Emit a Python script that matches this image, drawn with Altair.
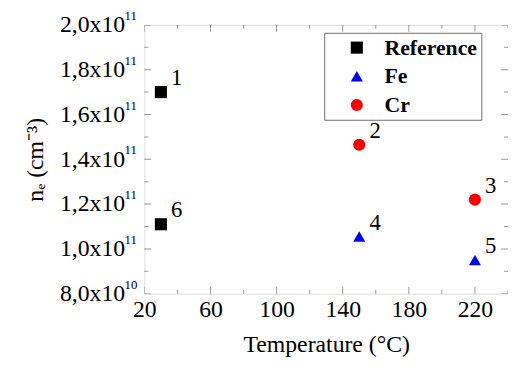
import altair as alt
import pandas as pd

# ---- data ----
labels = ["1", "2", "3", "4", "5", "6"]
groups = ["Reference", "Cr", "Cr", "Fe", "Fe", "Reference"]
temps = [30, 150, 220, 150, 220, 30]
ne_values = [1.70e11, 1.465e11, 1.22e11, 1.055e11, 0.95e11, 1.11e11]

series_order = ["Reference", "Fe", "Cr"]
series_colors = ["#000000", "#0000ff", "#ff0000"]
series_shapes = ["square", "triangle-up", "circle"]

x_major = [20, 60, 100, 140, 180, 220]
x_minor = [40, 80, 120, 160, 200, 240]
y_major = [8.0e10, 1.0e11, 1.2e11, 1.4e11, 1.6e11, 1.8e11, 2.0e11]
y_minor = [9.0e10, 1.1e11, 1.3e11, 1.5e11, 1.7e11, 1.9e11]
y_tick_mantissa = ["8,0x10", "1,0x10", "1,2x10", "1,4x10", "1,6x10", "1,8x10", "2,0x10"]
y_tick_exponent = ["10", "11", "11", "11", "11", "11", "11"]

df = pd.DataFrame({"label": labels, "group": groups, "T": temps, "ne": ne_values})
sup_df = pd.DataFrame({"v": y_major, "exp": y_tick_exponent})

FONT = "'Liberation Serif', 'Times New Roman', Times, serif"
W, H = 368, 272
FRAME = "#6e6e6e"
SUP_W = 14
FS = 24

x_scale = alt.Scale(domain=[20, 240], nice=False, zero=False)
y_scale = alt.Scale(domain=[8.0e10, 2.0e11], nice=False, zero=False)

label_expr = " : ".join(
    f"datum.value == {v!r} ? '{t}'" for v, t in zip(y_major, y_tick_mantissa)
) + " : ''"

points = alt.Chart(df).mark_point(filled=True, size=150, opacity=1).encode(
    x=alt.X("T:Q", scale=x_scale,
            axis=alt.Axis(values=x_major, title="Temperature (°C)", ticks=False,
                          domain=False, grid=False, labelFont=FONT, labelFontSize=FS,
                          labelColor="black", labelPadding=4, titleFont=FONT,
                          titleFontSize=FS, titleFontWeight="normal",
                          titleColor="black", titlePadding=12, labelFlush=False)),
    y=alt.Y("ne:Q", scale=y_scale,
            axis=alt.Axis(values=y_major, title="nₑ (cm⁻³)", ticks=False,
                          domain=False, grid=False, labelExpr=label_expr,
                          labelFont=FONT, labelFontSize=FS, labelColor="black",
                          labelPadding=6 + SUP_W, titleFont=FONT, titleFontSize=FS,
                          titleFontWeight="normal", titleColor="black",
                          titlePadding=12, labelFlush=False)),
    color=alt.Color("group:N", scale=alt.Scale(domain=series_order, range=series_colors),
                    legend=alt.Legend(title=None, orient="none", legendX=182, legendY=8,
                                      strokeColor=FRAME, fillColor="white", padding=4,
                                      labelFont=FONT, labelFontSize=22,
                                      labelFontWeight="bold", labelColor="black",
                                      symbolSize=150, symbolOffset=18, labelOffset=17,
                                      rowPadding=7, symbolStrokeWidth=0)),
    shape=alt.Shape("group:N", scale=alt.Scale(domain=series_order, range=series_shapes)),
)

texts = alt.Chart(df).mark_text(font=FONT, fontSize=23, dx=16, dy=-14,
                                 color="black").encode(
    x=alt.X("T:Q", scale=x_scale), y=alt.Y("ne:Q", scale=y_scale), text="label:N")

sups = alt.Chart(sup_df).mark_text(font=FONT, fontSize=13, align="left", dy=-9,
                                    color="black").encode(
    y=alt.Y("v:Q", scale=y_scale), x=alt.value(-6 - SUP_W), text="exp:N")

def xticks(vals, size, ypos):
    return alt.Chart(pd.DataFrame({"v": vals})).mark_tick(
        clip=True, size=size, thickness=1, color=FRAME, orient="vertical").encode(
        x=alt.X("v:Q", scale=x_scale), y=alt.value(ypos))

def yticks(vals, size, xpos):
    return alt.Chart(pd.DataFrame({"v": vals})).mark_tick(
        clip=True, size=size, thickness=1, color=FRAME, orient="horizontal").encode(
        y=alt.Y("v:Q", scale=y_scale), x=alt.value(xpos))

ticks = [
    xticks(x_major, 14, H), xticks(x_minor, 8, H),
    xticks(x_major, 14, 0), xticks(x_minor, 8, 0),
    yticks(y_major, 14, 0), yticks(y_minor, 8, 0),
    yticks(y_major, 14, W), yticks(y_minor, 8, W),
]

chart = alt.layer(*ticks, points, texts, sups).properties(
    width=W, height=H,
    padding={"left": 16, "top": 0, "right": 0, "bottom": 0},
).configure_view(stroke=FRAME, strokeWidth=1.2).configure(background="white")

chart.save("out.html", embed_options={"renderer": "svg", "actions": False})
